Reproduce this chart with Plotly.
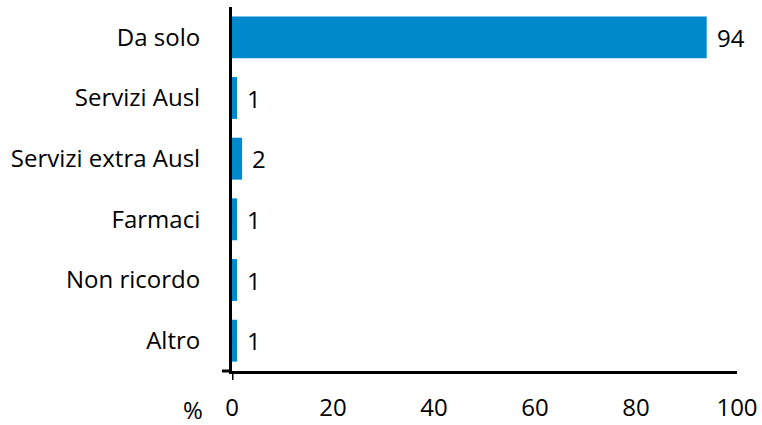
import plotly.graph_objects as go

categories = ["Da solo", "Servizi Ausl", "Servizi extra Ausl", "Farmaci", "Non ricordo", "Altro"]
values = [94, 1, 2, 1, 1, 1]
x_ticks = [0, 20, 40, 60, 80, 100]

FONT = "Open Sans"
FS = 24
BAR = "#0088cc"

fig = go.Figure()
fig.add_trace(go.Bar(
    y=categories, x=values, orientation="h",
    marker=dict(color=BAR, line=dict(width=0)),
    width=0.69, showlegend=False, hoverinfo="skip",
))

for c, v in zip(categories, values):
    fig.add_annotation(x=v, y=c, xref="x", yref="y", text=str(v), showarrow=False,
                       xanchor="left", yanchor="middle", xshift=8,
                       font=dict(family=FONT, size=FS, color="black"))

fig.add_annotation(x=-0.077, y=0, xref="paper", yref="paper", text="%", showarrow=False,
                   xanchor="center", yanchor="middle", yshift=-38,
                   font=dict(family=FONT, size=FS, color="black"))

# axis extensions (crossing)
fig.add_shape(type="line", xref="paper", yref="paper", x0=-0.02, x1=0, y0=0, y1=0,
              line=dict(color="black", width=3))
fig.add_shape(type="line", xref="x", yref="paper", x0=0, x1=0, y0=-0.025, y1=0,
              line=dict(color="black", width=3))

fig.update_layout(
    width=762, height=425,
    margin=dict(l=232, r=25, t=7, b=54),
    paper_bgcolor="white", plot_bgcolor="white",
    font=dict(family=FONT, size=FS, color="black"),
    bargap=0.31,
    xaxis=dict(range=[0, 100], tickvals=x_ticks, showgrid=False, zeroline=False,
               showline=True, linecolor="black", linewidth=3, ticks="", automargin=False,
               ticklabelstandoff=13, tickfont=dict(family=FONT, size=FS, color="black")),
    yaxis=dict(categoryorder="array", categoryarray=categories[::-1],
               range=[-0.5, 5.5], showgrid=False, zeroline=False, automargin=False,
               showline=True, linecolor="black", linewidth=3, ticks="",
               ticklabelstandoff=24, tickfont=dict(family=FONT, size=FS, color="black")),
)

fig.write_html("out.html")
